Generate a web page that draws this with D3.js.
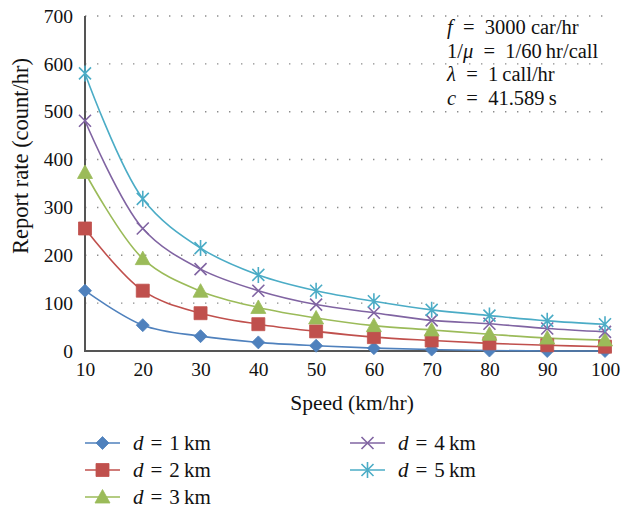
<!DOCTYPE html>
<html>
<head>
<meta charset="utf-8">
<script src="https://cdn.jsdelivr.net/npm/d3@7"></script>
<style>
  body { margin: 0; background: #fff; }
  text { font-family: "Liberation Serif", "Times New Roman", serif; fill: #111; }
</style>
</head>
<body>
<svg id="chart" width="633" height="509"></svg>
<script>
// speeds on the x axis (km/hr)
const speeds = [10, 20, 30, 40, 50, 60, 70, 80, 90, 100];
const distances = [1, 2, 3, 4, 5];

// report rate (count/hr) for each distance d
const rateD1 = [126, 54, 31, 18, 11, 6, 3, 1, 0, 0];
const rateD2 = [256, 126, 79, 56, 41, 29, 22, 16, 12, 9];
const rateD3 = [373, 193, 125, 91, 69, 53, 44, 35, 27, 23];
const rateD4 = [481, 256, 171, 126, 97, 80, 64, 57, 47, 40];
const rateD5 = [580, 318, 215, 159, 126, 104, 86, 74, 63, 56];

const yTicks = [0, 100, 200, 300, 400, 500, 600, 700];

const colors = ["#4F81BD", "#C0504D", "#9BBB59", "#8064A2", "#4BACC6"];
const shapes = ["diamond", "square", "triangle", "x", "star"];

const series = [rateD1, rateD2, rateD3, rateD4, rateD5].map((vals, i) => ({
    d: distances[i],
    color: colors[i],
    shape: shapes[i],
    values: vals.map((v, j) => ({speed: speeds[j], value: v}))
}));

const svg = d3.select("#chart");

const x = d3.scalePoint().domain(speeds).range([85, 605]);
const y = d3.scaleLinear().domain([0, 700]).range([351, 16]);

// dotted gridlines
svg.append("g")
    .selectAll("line")
    .data(yTicks.filter(t => t > 0))
    .enter()
    .append("line")
    .attr("x1", x(10))
    .attr("x2", x(100) + 4)
    .attr("y1", d => y(d))
    .attr("y2", d => y(d))
    .attr("stroke", "#8c8c8c")
    .attr("stroke-width", 1.4)
    .attr("stroke-dasharray", "1.4,10.6");

// y axis
const yAxis = svg.append("g")
    .attr("transform", `translate(${x(10)},0)`)
    .call(d3.axisLeft(y).tickValues(yTicks).tickSize(0).tickPadding(12));
yAxis.select(".domain").remove();
yAxis.selectAll("text")
    .style("font-family", "Liberation Serif")
    .style("font-size", "19.5px")
    .attr("fill", "#111");

// x axis
const xAxis = svg.append("g")
    .attr("transform", `translate(0,${y(0)})`)
    .call(d3.axisBottom(x).tickSize(0).tickPadding(11));
xAxis.select(".domain").remove();
xAxis.selectAll("text")
    .style("font-family", "Liberation Serif")
    .style("font-size", "19.5px")
    .attr("fill", "#111");

// axis lines
svg.append("line")
    .attr("x1", x(10)).attr("x2", x(10))
    .attr("y1", y(700)).attr("y2", y(0))
    .attr("stroke", "#555").attr("stroke-width", 2);
svg.append("line")
    .attr("x1", x(10) - 1).attr("x2", x(100) + 4)
    .attr("y1", y(0)).attr("y2", y(0))
    .attr("stroke", "#555").attr("stroke-width", 2);

// axis titles
svg.append("text")
    .attr("x", 352)
    .attr("y", 410)
    .attr("text-anchor", "middle")
    .style("font-size", "21.5px")
    .text("Speed (km/hr)");

svg.append("text")
    .attr("transform", "translate(28,156) rotate(-90)")
    .attr("text-anchor", "middle")
    .style("font-size", "22.5px")
    .text("Report rate (count/hr)");

// marker paths
function markerPath(shape) {
    switch (shape) {
        case "diamond": return "M0,-6.5L6.5,0L0,6.5L-6.5,0Z";
        case "square": return "M-6.5,-6.5H6.5V6.5H-6.5Z";
        case "triangle": return "M0,-7.5L7.5,6L-7.5,6Z";
        case "x": return "M-6,-6L6,6M-6,6L6,-6";
        case "star": return "M-6,-6L6,6M-6,6L6,-6M0,-8V8";
    }
}
const filled = s => s === "diamond" || s === "square" || s === "triangle";

const line = d3.line()
    .x(d => x(d.speed))
    .y(d => y(d.value))
    .curve(d3.curveCatmullRom.alpha(0.5));

const g = svg.append("g");

g.selectAll("path.series")
    .data(series)
    .enter()
    .append("path")
    .attr("class", "series")
    .attr("d", d => line(d.values))
    .attr("fill", "none")
    .attr("stroke", d => d.color)
    .attr("stroke-width", 1.6);

series.forEach(s => {
    g.selectAll(null)
        .data(s.values)
        .enter()
        .append("path")
        .attr("transform", d => `translate(${x(d.speed)},${y(d.value)})`)
        .attr("d", markerPath(s.shape))
        .attr("fill", filled(s.shape) ? s.color : "none")
        .attr("stroke", s.color)
        .attr("stroke-width", filled(s.shape) ? 0.8 : 1.6);
});

// parameter notes, top right
const EQ = "\u2002=\u2002";
const notes = [
    [["f", true], [EQ + "3000 car/hr", false]],
    [["1/", false], ["μ", true], [EQ + "1/60\u2009hr/call", false]],
    [["λ", true], [EQ + "1\u2009call/hr", false]],
    [["c", true], [EQ + "41.589\u2009s", false]]
];
notes.forEach((parts, i) => {
    const t = svg.append("text")
        .attr("x", 447)
        .attr("y", 34 + i * 23.5)
        .style("font-size", "20.5px");
    parts.forEach(p => {
        t.append("tspan")
            .style("font-style", p[1] ? "italic" : "normal")
            .text(p[0]);
    });
});

// legend
const legendPos = [[85, 443], [85, 470], [85, 497], [350, 443], [350, 470]];
series.forEach((s, i) => {
    const [lx, ly] = legendPos[i];
    const lg = svg.append("g").attr("transform", `translate(${lx},${ly})`);
    lg.append("line")
        .attr("x1", 0).attr("x2", 35)
        .attr("stroke", s.color).attr("stroke-width", 1.6);
    lg.append("path")
        .attr("transform", "translate(17.5,0)")
        .attr("d", markerPath(s.shape))
        .attr("fill", filled(s.shape) ? s.color : "none")
        .attr("stroke", s.color)
        .attr("stroke-width", filled(s.shape) ? 0.8 : 1.6);
    const t = lg.append("text")
        .attr("x", 48)
        .attr("y", 7)
        .style("font-size", "21px");
    t.append("tspan").style("font-style", "italic").text("d");
    t.append("tspan").text(`\u2004=\u2004${s.d}\u2009km`);
});
</script>
</body>
</html>
